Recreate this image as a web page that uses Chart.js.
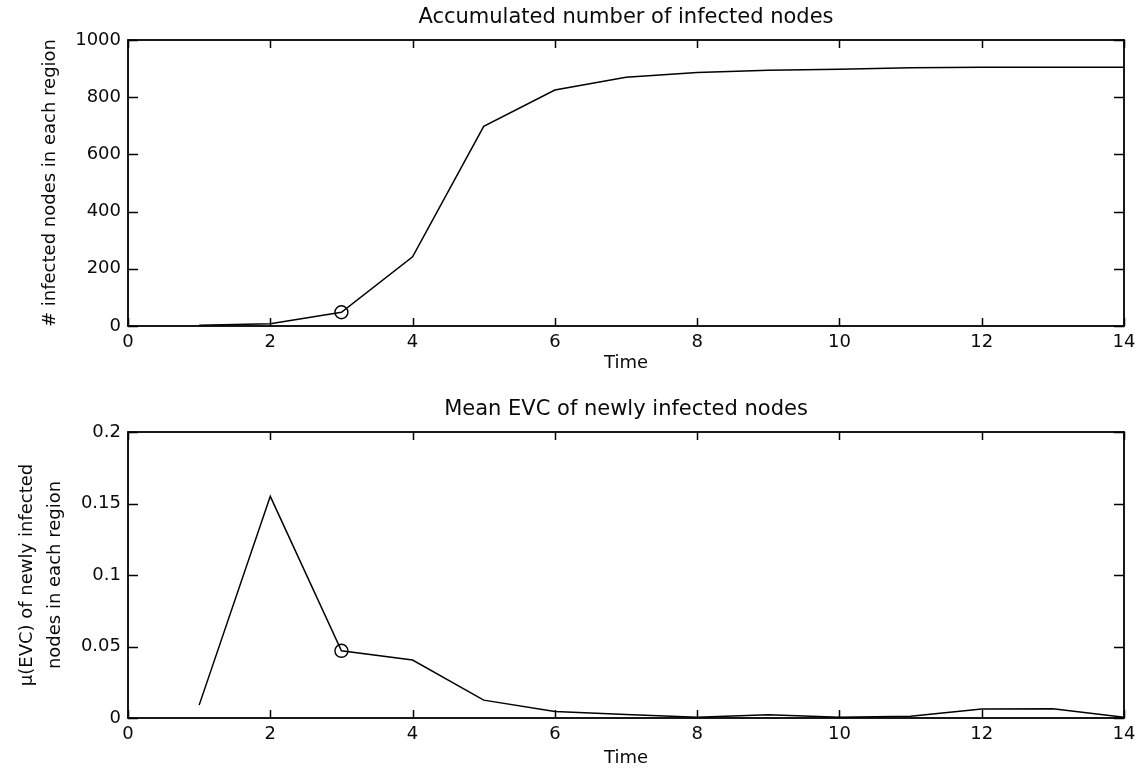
<!DOCTYPE html>
<html>
<head>
<meta charset="utf-8">
<script src="https://cdn.jsdelivr.net/npm/chart.js@4.4.1/dist/chart.umd.min.js"></script>
<style>
  html, body { margin: 0; padding: 0; background: #fff; }
  #wrap { position: relative; width: 1142px; height: 771px; overflow: hidden; }
  .box { position: absolute; left: 0; width: 1142px; }
  #b1 { top: 0; height: 385px; }
  #b2 { top: 385px; height: 386px; }
</style>
</head>
<body>
<div id="wrap">
  <div class="box" id="b1"><canvas id="c1"></canvas></div>
  <div class="box" id="b2"><canvas id="c2"></canvas></div>
</div>
<script>
// ---- data ----
const time = [1, 2, 3, 4, 5, 6, 7, 8, 9, 10, 11, 12, 13, 14];
const infectedNodes = [3, 8, 48, 242, 698, 825, 870, 886, 894, 898, 903, 905, 905, 905];
const meanEVC = [0.009, 0.155, 0.047, 0.0405, 0.0125, 0.0045, 0.0025, 0.0006, 0.0022, 0.0006, 0.0012, 0.0063, 0.0065, 0.0006];
const markedTime = 3;
const xTicks = [0, 2, 4, 6, 8, 10, 12, 14];
const yTicksTop = [0, 200, 400, 600, 800, 1000];
const yTicksBottom = [0, 0.05, 0.1, 0.15, 0.2];
const yTickLabelsBottom = ['0', '0.05', '0.1', '0.15', '0.2'];
const titleTop = 'Accumulated number of infected nodes';
const titleBottom = 'Mean EVC of newly infected nodes';
const xTitle = 'Time';
const yTitleTop = '# infected nodes in each region';
const yTitleBottom = ['\u03bc(EVC) of newly infected', 'nodes in each region'];

const FONT = "'DejaVu Sans', sans-serif";
const INK = '#0a0a0a';

const frameTicks = {
  id: 'frameTicks',
  afterDatasetsDraw(chart) {
    const { ctx, chartArea: { left, right, top, bottom }, scales: { x, y } } = chart;
    ctx.save();
    ctx.strokeStyle = '#000';
    ctx.lineWidth = 1.8;
    ctx.strokeRect(left, top, right - left, bottom - top);
    ctx.lineWidth = 1.5;
    ctx.beginPath();
    x.ticks.forEach(t => {
      const px = Math.round(x.getPixelForValue(t.value)) + 0.5;
      ctx.moveTo(px, bottom); ctx.lineTo(px, bottom - 8);
      ctx.moveTo(px, top); ctx.lineTo(px, top + 8);
    });
    y.ticks.forEach(t => {
      const py = Math.round(y.getPixelForValue(t.value)) + 0.5;
      ctx.moveTo(left, py); ctx.lineTo(left + 10, py);
      ctx.moveTo(right, py); ctx.lineTo(right - 10, py);
    });
    ctx.stroke();
    ctx.restore();
  }
};

function makeChart(canvasId, values, cfg) {
  const pts = time.map((t, i) => ({ x: t, y: values[i] }));
  return new Chart(document.getElementById(canvasId), {
    type: 'line',
    data: {
      datasets: [{
        data: pts,
        borderColor: '#000',
        borderWidth: 1.5,
        tension: 0,
        fill: false,
        pointRadius: c => (c.raw && c.raw.x === markedTime ? 6.5 : 0),
        pointBorderColor: '#000',
        pointBackgroundColor: 'rgba(0,0,0,0)',
        pointBorderWidth: 1.4,
        clip: false
      }]
    },
    options: {
      responsive: true,
      maintainAspectRatio: false,
      animation: false,
      events: [],
      layout: { padding: { left: 0, right: 18, top: 0, bottom: 0 } },
      plugins: {
        legend: { display: false },
        tooltip: { enabled: false },
        title: {
          display: true,
          text: cfg.title,
          fullSize: false,
          color: INK,
          font: { family: FONT, size: 21, weight: 'normal', lineHeight: 1.2 },
          padding: cfg.titlePad
        }
      },
      scales: {
        x: {
          type: 'linear',
          min: 0, max: 14,
          grid: { display: false, drawTicks: false },
          border: { display: false },
          afterBuildTicks: s => { s.ticks = xTicks.map(v => ({ value: v })); },
          afterFit: s => { s.height = cfg.xHeight; },
          ticks: {
            color: INK, padding: cfg.xTickPad, maxRotation: 0,
            font: { family: FONT, size: 18 },
            callback: v => String(v)
          },
          title: {
            display: true, text: xTitle, color: INK,
            font: { family: FONT, size: 18, lineHeight: 1.2 },
            padding: { top: 0, bottom: cfg.xTitlePad }
          }
        },
        y: {
          type: 'linear',
          min: cfg.yMin, max: cfg.yMax,
          grid: { display: false, drawTicks: false },
          border: { display: false },
          afterBuildTicks: s => { s.ticks = cfg.yTicks.map(v => ({ value: v })); },
          afterFit: s => { s.width = 128; },
          ticks: {
            color: INK, padding: 7,
            font: { family: FONT, size: 18 },
            callback: cfg.yLabel
          },
          title: {
            display: true, text: cfg.yTitle, color: INK,
            font: { family: FONT, size: 18, lineHeight: 1.55 },
            padding: { top: cfg.yTitlePad, bottom: 0 }
          }
        }
      }
    },
    plugins: [frameTicks]
  });
}

makeChart('c1', infectedNodes, {
  title: titleTop,
  titlePad: { top: 5.4, bottom: 9.4 },
  xHeight: 59, xTickPad: 6, xTitlePad: 10.7,
  yMin: 0, yMax: 1000, yTicks: yTicksTop,
  yLabel: v => String(v),
  yTitle: yTitleTop, yTitlePad: 36
});

makeChart('c2', meanEVC, {
  title: titleBottom,
  titlePad: { top: 12.2, bottom: 9.6 },
  xHeight: 53, xTickPad: 6, xTitlePad: 1.5,
  yMin: 0, yMax: 0.2, yTicks: yTicksBottom,
  yLabel: (v) => yTickLabelsBottom[yTicksBottom.findIndex(t => Math.abs(t - v) < 1e-9)],
  yTitle: yTitleBottom, yTitlePad: 13
});
</script>
</body>
</html>
